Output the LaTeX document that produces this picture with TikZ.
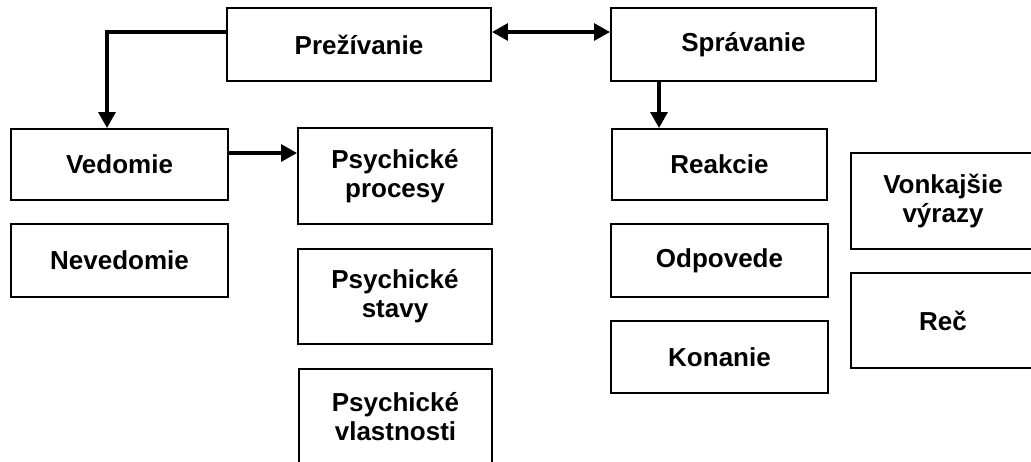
\documentclass[tikz,border=0pt]{standalone}
\usepackage{fontspec}
\setmainfont{Liberation Sans}
\usetikzlibrary{arrows.meta}
\begin{document}
\begin{tikzpicture}[x=0.02cm,y=-0.02cm,
  box/.style 2 args={draw,line width=1.1pt,inner sep=0pt,align=center,
    minimum width=#1*0.02cm,minimum height=#2*0.02cm,
    font=\bfseries\fontsize{14.8}{16.5}\selectfont},
  arr/.style={line width=1.9pt,-{Triangle[length=9pt,width=9.5pt]}}]
\clip(0,0)rectangle(1031,461);
%top
\node[box={264}{73}](prez)at(359,44.5){Prežívanie};
\node[box={265}{73}](sprav)at(743.5,44.5){Správanie};
%left column
\node[box={217}{71}](ved)at(119.5,164.5){Vedomie};
\node[box={217}{73}](nev)at(119.5,260.5){Nevedomie};
\node[box={194}{96}](proc)at(395,176){Psychické\\procesy};
\node[box={194}{95}](stav)at(395,296.5){Psychické\\stavy};
\node[box={193}{96}](vlast)at(395.5,417){Psychické\\vlastnosti};
%right column
\node[box={215}{71}](reak)at(719.5,164.5){Reakcie};
\node[box={217}{73}](odp)at(719.5,260.5){Odpovede};
\node[box={217}{72}](kon)at(719.5,357){Konanie};
\node[box={184}{96}](vonk)at(943,201){Vonkajšie\\výrazy};
\node[box={184}{95}](rec)at(943,320.5){Reč};
%arrows
\draw[arr]([yshift=0.25cm]prez.west)-|([xshift=-0.25cm]ved.north);
\draw[arr,{Triangle[length=9pt,width=9.5pt]}-{Triangle[length=9pt,width=9.5pt]}]([yshift=0.25cm]prez.east)--([yshift=0.25cm]sprav.west);
\draw[arr]([xshift=-1.69cm]sprav.south)--([xshift=-1.69cm]sprav.south|-reak.north);
\draw[arr]([yshift=0.23cm]ved.east)--([yshift=0.23cm]ved.east-|proc.west);
\end{tikzpicture}
\end{document}
